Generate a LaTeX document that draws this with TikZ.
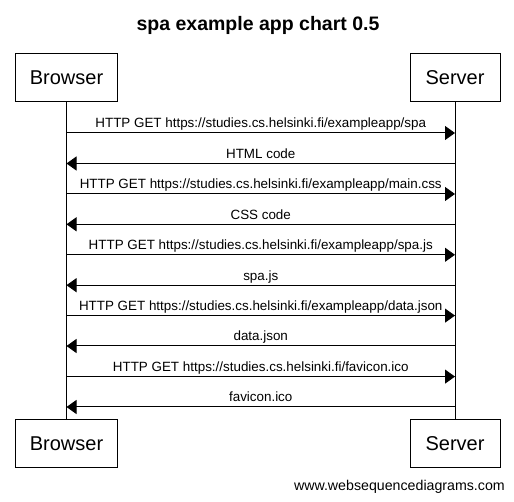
\documentclass[tikz,border=0pt]{standalone}
\usepackage{fontspec}
\setmainfont{Liberation Sans}
\usetikzlibrary{arrows.meta}
\begin{document}
\begin{tikzpicture}[x=1pt,y=-1pt,
  actor/.style={draw=black,line width=1pt,fill=white,inner sep=0pt,font=\fontsize{20}{24}\selectfont},
  bact/.style={actor,minimum width=102pt,minimum height=48pt},
  sact/.style={actor,minimum width=90pt,minimum height=48pt},
  life/.style={draw=black,line width=1pt},
  msg/.style={draw=black,line width=1pt,-{Triangle[length=10pt,width=14pt]}},
  lbl/.style={midway,anchor=base,yshift=5pt,inner sep=0pt,font=\fontsize{13.4}{15}\selectfont}
]
\useasboundingbox (0,0) rectangle (514,502);
\node[font=\bfseries\fontsize{19.5}{23}\selectfont,anchor=base,inner sep=0pt] (title) at (258,31) {spa example app chart 0.5};
\node[bact] (bt) at (66.5,77.5) {Browser};
\node[sact] (st) at (455,77.5) {Server};
\node[bact] (bb) at (66.5,443.5) {Browser};
\node[sact] (sb) at (455,443.5) {Server};
\draw[life] (bt.south) -- (bb.north);
\draw[life] (st.south) -- (sb.north);
\foreach \i/\y in {1/133,2/163.5,3/194,4/224.3,5/254.8,6/285.2,7/315.6,8/346,9/376.6,10/407}{
  \coordinate (b\i) at (66.5,\y);
  \coordinate (s\i) at (455,\y);
}
\draw[msg] (b1) -- node[lbl]{HTTP GET https://studies.cs.helsinki.fi/exampleapp/spa} (s1);
\draw[msg] (s2) -- node[lbl]{HTML code} (b2);
\draw[msg] (b3) -- node[lbl]{HTTP GET https://studies.cs.helsinki.fi/exampleapp/main.css} (s3);
\draw[msg] (s4) -- node[lbl]{CSS code} (b4);
\draw[msg] (b5) -- node[lbl]{HTTP GET https://studies.cs.helsinki.fi/exampleapp/spa.js} (s5);
\draw[msg] (s6) -- node[lbl]{spa.js} (b6);
\draw[msg] (b7) -- node[lbl]{HTTP GET https://studies.cs.helsinki.fi/exampleapp/data.json} (s7);
\draw[msg] (s8) -- node[lbl]{data.json} (b8);
\draw[msg] (b9) -- node[lbl]{HTTP GET https://studies.cs.helsinki.fi/favicon.ico} (s9);
\draw[msg] (s10) -- node[lbl]{favicon.ico} (b10);
\node[anchor=base east,inner sep=0pt,font=\fontsize{14.2}{17}\selectfont] (wm) at (505,490) {www.websequencediagrams.com};
\end{tikzpicture}
\end{document}
